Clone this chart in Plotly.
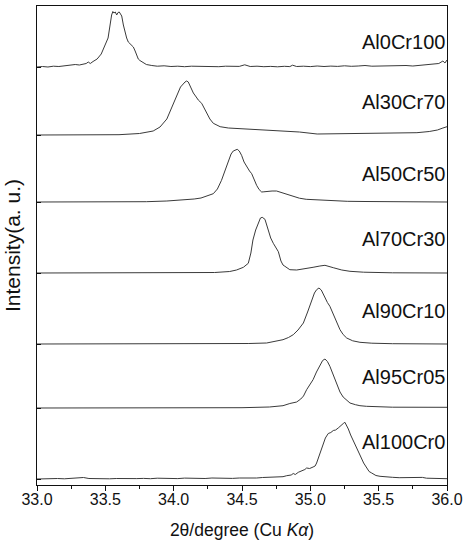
import plotly.graph_objects as go

# ---- data (2θ in degrees, intensity in arbitrary units above each baseline) ----
names = ["Al0Cr100", "Al30Cr70", "Al50Cr50", "Al70Cr30", "Al90Cr10", "Al95Cr05", "Al100Cr0"]
offsets = [418, 350, 283, 212, 141, 77, 6]

x_al0cr100 = [33.00, 33.04, 33.08, 33.12, 33.16, 33.20, 33.24, 33.28, 33.31, 33.34, 33.36, 33.375, 33.39, 33.41,
              33.44, 33.47, 33.50, 33.52, 33.546, 33.555, 33.563, 33.573, 33.583, 33.593, 33.602, 33.612, 33.62,
              33.632, 33.644, 33.656, 33.668, 33.685, 33.705, 33.718, 33.729, 33.741, 33.753, 33.775, 33.80, 33.84,
              33.88, 33.93, 33.98, 34.03, 34.08, 34.13, 34.18, 34.23, 34.28, 34.33, 34.38, 34.43, 34.48, 34.52,
              34.56, 34.61, 34.66, 34.71, 34.76, 34.81, 34.85, 34.87, 34.90, 34.95, 35.00, 35.05, 35.10, 35.15,
              35.20, 35.25, 35.30, 35.35, 35.40, 35.45, 35.50, 35.55, 35.60, 35.65, 35.70, 35.75, 35.80, 35.85,
              35.90, 35.94, 35.97, 35.985, 36.00]
y_al0cr100 = [0, 0.5, 0, 0.8, 0.5, 1.2, 1.5, 2.5, 2, 3, 3.5, 5, 3.5, 5.5,
              8, 13, 22, 29, 52, 55.5, 54, 55, 52, 54.5, 55, 53, 51,
              42, 34, 29, 25, 23, 20, 16, 12, 8, 6.5, 5, 2.5, 1.5,
              0.8, 1.2, 0.5, 0.8, 0.3, 0.8, 0.5, 0.2, 0.6, 0.3, 0.8, 0.4, 0.6, 2.2,
              0.5, 0.8, 0.3, 0.6, 0.2, 0.7, 0.4, 1.8, 0.5, 0.8, 0.4, 1.0, 0.5, 0.9,
              0.6, 1.2, 0.7, 1.0, 1.5, 0.8, 1.0, 1.4, 0.9, 1.2, 1.5, 1.0, 1.5, 2.0,
              2.5, 3.5, 6, 4, 7]

x_al30cr70 = [33.0, 33.3, 33.6, 33.75, 33.85, 33.90, 33.95, 34.00, 34.05, 34.083, 34.095, 34.107, 34.125, 34.144,
              34.165, 34.18, 34.205, 34.225, 34.241, 34.265, 34.29, 34.34, 34.40, 34.50, 34.60, 34.70, 34.80,
              34.92, 35.05, 35.20, 35.40, 35.60, 35.78, 35.87, 35.93, 35.97, 36.0]
y_al30cr70 = [0, 0, 0.3, 1.5, 4, 8, 16, 32, 48, 53, 54, 53, 48, 42,
              38, 35, 31.7, 26, 21.7, 16, 11.7, 8.3, 7, 6.3, 5.5, 5, 4.3,
              3, 1, 1.2, 1.7, 2, 2.3, 3.5, 5, 7, 8.3]

x_al50cr50 = [33.0, 33.5, 33.8, 33.95, 34.05, 34.15, 34.20, 34.25, 34.29, 34.32, 34.35, 34.38, 34.40, 34.42,
              34.436, 34.465, 34.48, 34.497, 34.515, 34.534, 34.555, 34.571, 34.59, 34.607, 34.625, 34.644,
              34.66, 34.68, 34.72, 34.753, 34.778, 34.80, 34.85, 34.875, 34.92, 34.97, 35.05, 35.17, 35.27,
              35.4, 35.6, 36.0]
y_al50cr50 = [0, 0, 0.3, 1, 1.8, 3, 4, 6, 8.3, 13, 21.7, 33, 41.7, 48,
              51, 52.7, 51, 46.7, 40, 35, 31, 28.3, 22, 16.7, 12.5, 10,
              10.2, 10.7, 11, 11, 10, 9, 6.7, 5.7, 3.8, 2.7, 2, 1.5, 0.7,
              0.5, 0.2, 0]

x_al70cr30 = [33.0, 33.5, 34.0, 34.3, 34.41, 34.46, 34.51, 34.546, 34.565, 34.58, 34.60, 34.62, 34.635, 34.648,
              34.668, 34.692, 34.71, 34.729, 34.766, 34.785, 34.80, 34.814, 34.85, 34.90, 34.948, 35.02, 35.07,
              35.107, 35.168, 35.23, 35.29, 35.39, 35.6, 36.0]
y_al70cr30 = [0, 0, 0.2, 0.5, 1.5, 3, 5.7, 9.7, 20, 33, 43, 51, 55, 55.7,
              53.7, 43, 35, 29.7, 21.3, 12, 8, 6.7, 3.3, 3.0, 3.8, 5.7, 7,
              7.7, 5.3, 3, 1.7, 0.8, 0.2, 0]

x_al90cr10 = [33.0, 33.8, 34.3, 34.55, 34.68, 34.75, 34.80, 34.84, 34.875, 34.91, 34.949, 34.98, 35.01, 35.03,
              35.046, 35.063, 35.08, 35.107, 35.125, 35.143, 35.16, 35.18, 35.20, 35.217, 35.24, 35.266, 35.31,
              35.363, 35.45, 35.6, 36.0]
y_al90cr10 = [0, 0, 0.2, 0.5, 1, 2.5, 4.3, 6.5, 9.3, 14, 21, 32, 44.3, 51,
              54.3, 56, 54, 46, 41.5, 37.7, 32, 26, 19.5, 14.3, 9.5, 6, 3.2,
              1.7, 0.8, 0.3, 0]

x_al95cr05 = [33.0, 34.0, 34.5, 34.7, 34.80, 34.85, 34.90, 34.93, 34.95, 34.973, 35.0, 35.02, 35.045, 35.07,
              35.09, 35.107, 35.125, 35.143, 35.165, 35.192, 35.217, 35.24, 35.266, 35.29, 35.33, 35.363, 35.41,
              35.6, 36.0]
y_al95cr05 = [0, 0, 0.3, 1, 2.3, 4.5, 6, 9, 12, 18.3, 24, 28.3, 36, 43.3,
              47.5, 49, 46.5, 41.7, 34, 25, 16, 11, 8, 5, 3.3, 2.3, 1.7,
              0.8, 0.7]

x_al100cr0 = [33.0, 33.05, 33.1, 33.15, 33.2, 33.25, 33.3, 33.34, 33.38, 33.43, 33.48, 33.53, 33.58, 33.63, 33.68,
              33.73, 33.78, 33.83, 33.88, 33.93, 33.98, 34.03, 34.08, 34.13, 34.18, 34.23, 34.28, 34.33, 34.38,
              34.43, 34.48, 34.53, 34.58, 34.607, 34.65, 34.70, 34.75, 34.80, 34.827, 34.86, 34.875, 34.89,
              34.912, 34.94, 34.96, 34.973, 34.995, 35.02, 35.035, 35.046, 35.065, 35.083, 35.095, 35.11, 35.131,
              35.15, 35.168, 35.185, 35.204, 35.218, 35.229, 35.241, 35.253, 35.265, 35.278, 35.295, 35.314,
              35.34, 35.363, 35.39, 35.412, 35.43, 35.449, 35.48, 35.51, 35.55, 35.60, 35.65, 35.70, 35.75,
              35.80, 35.82, 35.85, 35.90, 35.95, 36.0]
y_al100cr0 = [0, 0.3, 0, 0.5, 0.2, 0.6, 0.8, 1.5, 0.5, 0.3, 0.6, 0.2, 0.5, 0.3, 0.7,
              0.4, 0.6, 0.3, 0.8, 0.5, 0.7, 0.4, 0.9, 0.6, 0.8, 0.5, 1.0, 0.7, 0.9,
              0.6, 1.0, 0.8, 1.2, 1.0, 1.5, 1.7, 2.0, 2.3, 3.3, 4, 5.5, 4.5,
              6.7, 8, 9.5, 11, 10.5, 12, 13, 16, 24, 31, 36, 41, 45.5,
              46.5, 48.5, 49, 51, 53, 54.3, 55.5, 56.7, 54, 50, 44, 38,
              30, 24, 16, 11, 7.5, 6, 3.5, 2.7, 2, 1.7, 1.3, 1.5, 1.0,
              1.2, 1.6, 0.8, 0.6, 0.9, 0.3]

label_y = [443, 383, 311, 246, 174, 108, 43]
x_ticks = [33.0, 33.5, 34.0, 34.5, 35.0, 35.5, 36.0]

series_x = [x_al0cr100, x_al30cr70, x_al50cr50, x_al70cr30, x_al90cr10, x_al95cr05, x_al100cr0]
series_y = [y_al0cr100, y_al30cr70, y_al50cr50, y_al70cr30, y_al90cr10, y_al95cr05, y_al100cr0]

FONT = "Arial, 'Liberation Sans', sans-serif"

fig = go.Figure()
for name, xs, ys, off in zip(names, series_x, series_y, offsets):
    fig.add_trace(go.Scatter(x=xs, y=[v + off for v in ys], mode="lines", name=name,
                             line=dict(color="#3a3a3a", width=1), showlegend=False))

for name, ly in zip(names, label_y):
    fig.add_annotation(x=1.0, xref="paper", y=ly, yref="y", text=name, showarrow=False,
                       xanchor="right", yanchor="middle", font=dict(family=FONT, size=20, color="#111"))

fig.update_layout(
    template="none",
    width=466, height=540,
    margin=dict(l=37, r=19, t=6, b=55),
    paper_bgcolor="white", plot_bgcolor="white",
    font=dict(family=FONT, color="#111"),
)
fig.update_xaxes(
    automargin=False,
    range=[33, 36], tickvals=x_ticks, ticktext=[f"{v:.1f}" for v in x_ticks],
    ticks="outside", ticklen=5, tickwidth=1.2, tickcolor="#111",
    minor=dict(ticks="outside", ticklen=3, tickwidth=1.2, tickcolor="#111", dtick=0.25, tick0=33),
    showline=True, linecolor="#111", linewidth=1.3, mirror=True, showgrid=False, zeroline=False,
    ticklabeloverflow="allow", ticklabelstandoff=-5,
    tickfont=dict(size=16, family=FONT, color="#111"),
    title=dict(text="2θ/degree (Cu <i>Kα</i>)", font=dict(size=17.5, family=FONT, color="#111"), standoff=18),
)
fig.update_yaxes(
    automargin=False,
    range=[0, 479], tickvals=offsets, showticklabels=False,
    ticks="inside", ticklen=4, tickwidth=1, tickcolor="#111",
    showline=True, linecolor="#111", linewidth=1.3, mirror=True, showgrid=False, zeroline=False,
    title=dict(text="Intensity(a. u.)", font=dict(size=21, family=FONT, color="#111"), standoff=9),
)

fig.write_html("out.html", config={"displayModeBar": False},
               post_script="document.body.style.margin='0px';document.body.style.overflow='hidden';")
